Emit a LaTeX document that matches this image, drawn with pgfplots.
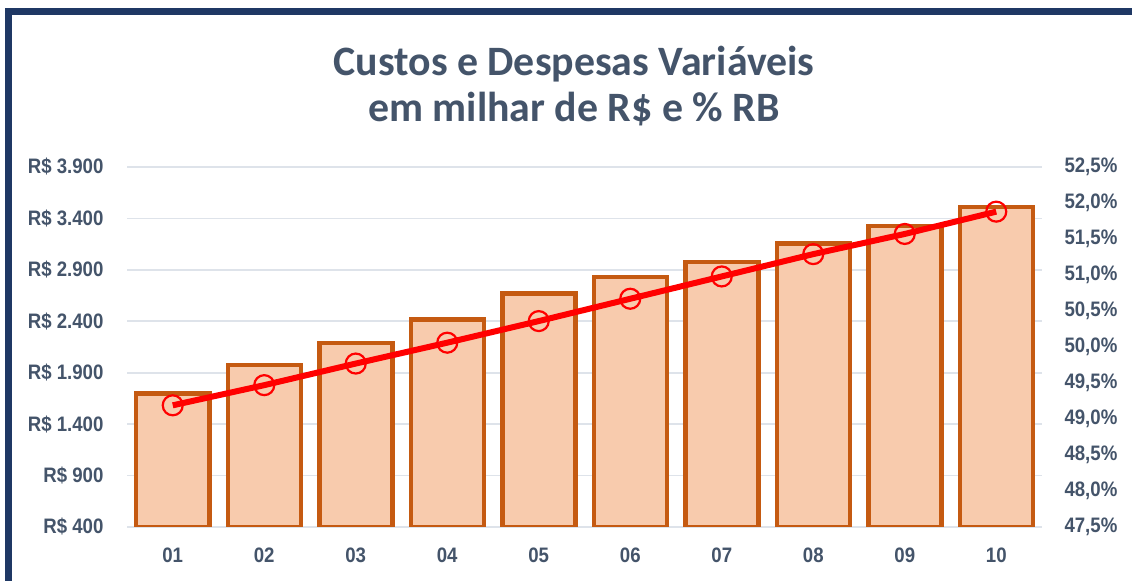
\documentclass[border=0pt]{standalone}
\usepackage{pgfplots}
\pgfplotsset{compat=1.18}
\usepackage{fontspec}
\setmainfont{Liberation Sans}
\newfontfamily\tickfont[FakeStretch=0.89]{Liberation Sans}
\newfontfamily\titlefont{Carlito}
\definecolor{framec}{HTML}{1F3864}
\definecolor{textc}{HTML}{44546A}
\definecolor{gridc}{HTML}{DEE3EA}
\definecolor{barfill}{HTML}{F8CBAD}
\definecolor{barline}{HTML}{C55A11}
\definecolor{linec}{HTML}{FF0000}
\begin{document}
\begin{tikzpicture}
\useasboundingbox (0,0) rectangle (1132bp,581bp);
\fill[white] (0,0) rectangle (1132bp,581bp);
\draw[line width=7bp, color=framec, line join=miter] (8.8bp,-20bp) -- (8.8bp,569.5bp) -- (1150bp,569.5bp);
\node[anchor=base, color=textc, font=\titlefont\bfseries\fontsize{42}{42}\selectfont] at (574bp,505bp) {Custos e Despesas Variáveis};
\node[anchor=base, color=textc, font=\titlefont\bfseries\fontsize{42}{42}\selectfont] at (574bp,459bp) {em milhar de R\$ e \% RB};
\begin{axis}[
  at={(127bp,54bp)}, anchor=south west,
  scale only axis, width=915bp, height=360bp,
  xmin=-0.5, xmax=9.5, ymin=400, ymax=3900,
  axis line style={draw=none},
  major tick length=0pt,
  ymajorgrids, major grid style={color=gridc, line width=1.6bp},
  xtick={0,...,9},
  xticklabels={01,02,03,04,05,06,07,08,09,10},
  ytick={400,900,1400,1900,2400,2900,3400,3900},
  yticklabels={R\$ 400,R\$ 900,R\$ 1.400,R\$ 1.900,R\$ 2.400,R\$ 2.900,R\$ 3.400,R\$ 3.900},
  tick label style={font=\tickfont\bfseries\fontsize{21}{21}\selectfont, color=textc},
  yticklabel style={xshift=-20bp},
  xticklabel style={yshift=-17bp},
]
\addplot[ybar, bar width=73bp, fill=barfill, draw=barline, line width=4.5bp]
  coordinates {(0,1696) (1,1975) (2,2189) (3,2419) (4,2668) (5,2831) (6,2976) (7,3154) (8,3326) (9,3511)};
\end{axis}
\begin{axis}[
  at={(127bp,54bp)}, anchor=south west,
  scale only axis, width=915bp, height=360bp,
  xmin=-0.5, xmax=9.5, ymin=47.5, ymax=52.5,
  axis x line=none, axis y line*=right,
  axis line style={draw=none},
  major tick length=0pt,
  ytick={47.5,48,48.5,49,49.5,50,50.5,51,51.5,52,52.5},
  yticklabels={{47,5\%},{48,0\%},{48,5\%},{49,0\%},{49,5\%},{50,0\%},{50,5\%},{51,0\%},{51,5\%},{52,0\%},{52,5\%}},
  tick label style={font=\tickfont\bfseries\fontsize{21}{21}\selectfont, color=textc},
  yticklabel style={xshift=19bp},
  clip=false,
]
\addplot[color=linec, line width=6bp, mark=o, mark size=10bp, mark options={line width=2.2bp, fill=none}]
  coordinates {(0,49.19) (1,49.47) (2,49.77) (3,50.06) (4,50.36) (5,50.67) (6,50.98) (7,51.29) (8,51.57) (9,51.88)};
\end{axis}
\end{tikzpicture}
\end{document}
